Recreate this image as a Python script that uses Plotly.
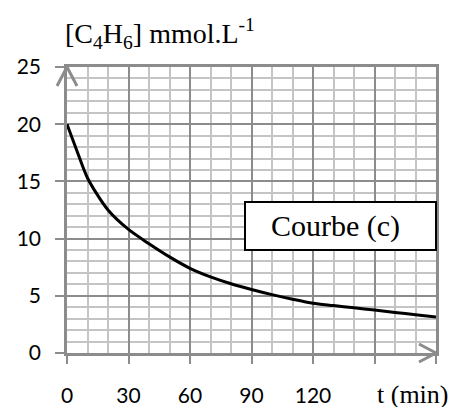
import plotly.graph_objects as go

# Data
t_min = [0, 5, 10, 20, 30, 40, 50, 60, 70, 80, 90, 100, 110, 120, 130, 140, 150, 160, 170, 180]
conc = [20, 17.6, 15.3, 12.5, 10.8, 9.55, 8.4, 7.4, 6.65, 6.05, 5.55, 5.1, 4.7, 4.35, 4.15, 3.95, 3.75, 3.55, 3.35, 3.15]

x_tickvals = [0, 30, 60, 90, 120, 150, 180]
x_ticktext = ["0", "30", "60", "90", "120", "", ""]
y_tickvals = [0, 5, 10, 15, 20, 25]
y_ticktext = ["0", "5", "10", "15", "20", "25"]

MAJOR = "#8c8c8c"
MINOR = "#c4c4c4"
SERIF = "Times New Roman, Liberation Serif, serif"
SANS = "Lato, Carlito, sans-serif"

fig = go.Figure()
fig.add_trace(go.Scatter(
    x=t_min, y=conc, mode="lines",
    line=dict(color="black", width=3, shape="spline", smoothing=0.8),
    hoverinfo="skip", showlegend=False,
))

fig.update_xaxes(
    range=[0, 180], tickvals=x_tickvals, ticktext=x_ticktext,
    showgrid=True, gridcolor=MAJOR, gridwidth=2,
    minor=dict(dtick=10, showgrid=True, gridcolor=MINOR, gridwidth=2, ticks=""),
    showline=True, linecolor=MAJOR, linewidth=2.5, mirror=True,
    ticks="outside", ticklen=8, tickwidth=2, tickcolor=MAJOR,
    ticklabelstandoff=14, automargin=False,
    tickfont=dict(family=SANS, size=21, color="black"),
    zeroline=False, fixedrange=True,
)
fig.update_yaxes(
    range=[0, 25], tickvals=y_tickvals, ticktext=y_ticktext,
    showgrid=True, gridcolor=MAJOR, gridwidth=2,
    minor=dict(dtick=1, showgrid=True, gridcolor=MINOR, gridwidth=2, ticks=""),
    showline=True, linecolor=MAJOR, linewidth=2.5, mirror=True,
    ticks="outside", ticklen=9, tickwidth=2, tickcolor=MAJOR,
    ticklabelstandoff=10, automargin=False,
    tickfont=dict(family=SANS, size=21, color="black"),
    zeroline=False, fixedrange=True,
)

# page body has an 8px default margin; compensate so the plot lands where the reference has it
OFF = 8
W, H = 457 - OFF, 407 - OFF
L, R, T, B = 67 - OFF, 21, 67 - OFF, 54
pw, ph = W - L - R, H - T - B
X0, Y1 = 67, 353  # window pixel of plot-area left and bottom

def px(xp):
    return (xp - X0) / pw

def py(yp):
    return (Y1 - yp) / ph

# arrow heads
fig.add_shape(type="path", xref="paper", yref="paper",
              path=f"M {px(57)},{py(86)} L 0,1 L {px(77)},{py(86)}",
              line=dict(color=MAJOR, width=3))
fig.add_shape(type="path", xref="paper", yref="paper",
              path=f"M {px(419)},{py(344)} L 1,0 L {px(419)},{py(362)}",
              line=dict(color=MAJOR, width=3))

# label box
fig.add_shape(type="rect", xref="paper", yref="paper",
              x0=px(245), x1=px(436), y0=py(250), y1=py(202),
              line=dict(color="black", width=2), fillcolor="white", layer="above")

fig.add_annotation(x=px(335), y=py(226), xref="paper", yref="paper",
                   xanchor="center", yanchor="middle",
                   text="Courbe (c)", showarrow=False,
                   font=dict(family=SERIF, size=30, color="black"))
fig.add_annotation(x=px(63), y=py(34), xref="paper", yref="paper",
                   xanchor="left", yanchor="middle",
                   text="[C<sub>4</sub>H<sub>6</sub>] mmol.L<sup>-1</sup>", showarrow=False,
                   font=dict(family=SERIF, size=28, color="black"))
fig.add_annotation(x=px(413), y=py(394), xref="paper", yref="paper",
                   xanchor="center", yanchor="middle", borderpad=0,
                   text="t (min)", showarrow=False,
                   font=dict(family=SERIF, size=26, color="black"))

fig.update_layout(
    width=W, height=H, margin=dict(l=L, r=R, t=T, b=B),
    paper_bgcolor="white", plot_bgcolor="white",
    showlegend=False,
)

fig.write_html("out.html")
